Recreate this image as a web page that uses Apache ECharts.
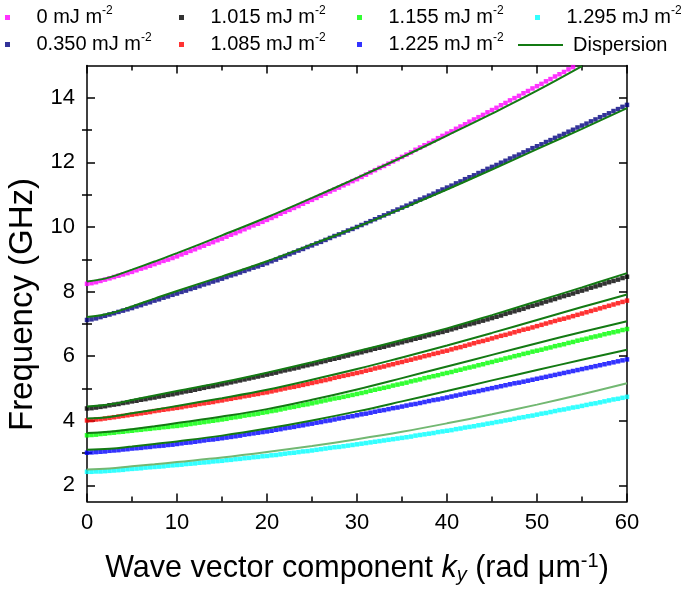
<!DOCTYPE html>
<html><head><meta charset="utf-8">
<script src="https://cdn.jsdelivr.net/npm/echarts@6/dist/echarts.min.js"></script>
<style>html,body{margin:0;padding:0;background:#fff}#c{width:681px;height:601px}</style>
</head><body><div id="c"></div>
<script>
// ---------- data ----------
const kMarkers = [0,0.5,1,1.5,2,2.5,3,3.5,4,4.5,5,5.5,6,6.5,7,7.5,8,8.5,9,9.5,10,10.5,11,11.5,12,12.5,13,13.5,14,14.5,15,15.5,16,16.5,17,17.5,18,18.5,19,19.5,20,20.5,21,21.5,22,22.5,23,23.5,24,24.5,25,25.5,26,26.5,27,27.5,28,28.5,29,29.5,30,30.5,31,31.5,32,32.5,33,33.5,34,34.5,35,35.5,36,36.5,37,37.5,38,38.5,39,39.5,40,40.5,41,41.5,42,42.5,43,43.5,44,44.5,45,45.5,46,46.5,47,47.5,48,48.5,49,49.5,50,50.5,51,51.5,52,52.5,53,53.5,54,54.5,55,55.5,56,56.5,57,57.5,58,58.5,59,59.5,60];

const seriesNames = ['0 mJ m-2','0.350 mJ m-2','1.015 mJ m-2','1.085 mJ m-2','1.155 mJ m-2','1.225 mJ m-2','1.295 mJ m-2'];
const dispersionName = 'Dispersion';

const f_0 = [8.24,8.26,8.29,8.33,8.37,8.41,8.45,8.49,8.53,8.57,
8.61,8.66,8.71,8.75,8.80,8.85,8.90,8.95,8.99,9.04,
9.09,9.15,9.20,9.26,9.31,9.37,9.42,9.48,9.53,9.59,
9.64,9.70,9.76,9.81,9.87,9.93,9.99,10.05,10.10,10.16,
10.22,10.28,10.34,10.41,10.47,10.53,10.59,10.65,10.72,10.78,
10.84,10.90,10.97,11.03,11.10,11.16,11.22,11.29,11.35,11.42,
11.48,11.55,11.62,11.69,11.76,11.83,11.89,11.96,12.03,12.10,
12.17,12.24,12.31,12.39,12.46,12.53,12.60,12.67,12.75,12.82,
12.89,12.96,13.04,13.11,13.18,13.26,13.33,13.40,13.47,13.55,
13.62,13.69,13.77,13.84,13.92,13.99,14.06,14.14,14.21,14.29,
14.36,14.43,14.51,14.58,14.66,14.73,14.80,14.88,14.95];

const f_0350 = [7.12,7.14,7.17,7.21,7.25,7.29,7.33,7.37,7.41,7.45,
7.49,7.54,7.58,7.63,7.67,7.72,7.76,7.81,7.85,7.90,
7.94,7.99,8.03,8.08,8.12,8.17,8.22,8.26,8.31,8.35,
8.40,8.45,8.50,8.54,8.59,8.64,8.69,8.74,8.78,8.83,
8.88,8.94,8.99,9.05,9.10,9.16,9.21,9.27,9.32,9.38,
9.43,9.49,9.54,9.60,9.66,9.72,9.77,9.83,9.89,9.94,
10.00,10.06,10.12,10.18,10.24,10.30,10.36,10.42,10.48,10.54,
10.60,10.66,10.72,10.79,10.85,10.91,10.97,11.03,11.10,11.16,
11.22,11.28,11.35,11.41,11.48,11.54,11.60,11.67,11.73,11.80,
11.86,11.92,11.99,12.05,12.12,12.18,12.24,12.31,12.37,12.44,
12.50,12.56,12.63,12.69,12.76,12.82,12.88,12.95,13.01,13.08,
13.14,13.20,13.27,13.33,13.40,13.46,13.52,13.59,13.65,13.72,
13.78];

const f_1015 = [4.38,4.39,4.41,4.43,4.45,4.48,4.50,4.52,4.55,4.57,
4.60,4.62,4.65,4.67,4.70,4.72,4.75,4.77,4.80,4.82,
4.85,4.88,4.91,4.93,4.96,4.99,5.02,5.05,5.07,5.10,
5.13,5.16,5.19,5.22,5.25,5.28,5.31,5.34,5.37,5.40,
5.43,5.46,5.49,5.53,5.56,5.59,5.62,5.65,5.69,5.72,
5.75,5.78,5.82,5.85,5.89,5.92,5.95,5.99,6.02,6.06,
6.09,6.12,6.16,6.19,6.23,6.26,6.29,6.33,6.36,6.40,
6.43,6.47,6.50,6.54,6.57,6.61,6.65,6.68,6.72,6.75,
6.79,6.83,6.87,6.91,6.95,6.99,7.02,7.06,7.10,7.14,
7.18,7.22,7.26,7.31,7.35,7.39,7.43,7.47,7.52,7.56,
7.60,7.64,7.69,7.73,7.77,7.82,7.86,7.90,7.94,7.99,
8.03,8.07,8.12,8.16,8.20,8.25,8.29,8.33,8.37,8.42,
8.46];

const f_1085 = [4.01,4.02,4.04,4.05,4.07,4.09,4.11,4.13,4.15,4.17,
4.19,4.21,4.23,4.25,4.27,4.30,4.32,4.34,4.36,4.38,
4.40,4.42,4.45,4.47,4.49,4.52,4.54,4.56,4.58,4.61,
4.63,4.66,4.68,4.71,4.73,4.76,4.78,4.81,4.83,4.86,
4.88,4.91,4.94,4.97,5.00,5.03,5.05,5.08,5.11,5.14,
5.17,5.20,5.23,5.26,5.29,5.33,5.36,5.39,5.42,5.45,
5.48,5.51,5.55,5.58,5.62,5.65,5.68,5.72,5.75,5.79,
5.82,5.86,5.89,5.93,5.96,6.00,6.03,6.07,6.10,6.14,
6.17,6.21,6.25,6.28,6.32,6.36,6.40,6.44,6.47,6.51,
6.55,6.59,6.63,6.66,6.70,6.74,6.78,6.82,6.85,6.89,
6.93,6.97,7.01,7.05,7.09,7.13,7.16,7.20,7.24,7.28,
7.32,7.36,7.40,7.44,7.48,7.52,7.56,7.60,7.64,7.68,
7.72];

const f_1155 = [3.55,3.56,3.57,3.59,3.60,3.62,3.63,3.65,3.66,3.68,
3.69,3.71,3.72,3.74,3.75,3.77,3.78,3.80,3.81,3.83,
3.84,3.86,3.88,3.90,3.92,3.94,3.96,3.98,4.00,4.02,
4.04,4.06,4.09,4.11,4.13,4.16,4.18,4.20,4.22,4.25,
4.27,4.30,4.32,4.35,4.38,4.41,4.43,4.46,4.49,4.51,
4.54,4.57,4.60,4.63,4.66,4.69,4.71,4.74,4.77,4.80,
4.83,4.86,4.89,4.93,4.96,4.99,5.02,5.05,5.09,5.12,
5.15,5.18,5.22,5.25,5.28,5.32,5.35,5.38,5.41,5.45,
5.48,5.51,5.55,5.58,5.62,5.65,5.68,5.72,5.75,5.79,
5.82,5.86,5.89,5.93,5.96,6.00,6.03,6.07,6.10,6.14,
6.17,6.20,6.24,6.27,6.31,6.34,6.37,6.41,6.44,6.48,
6.51,6.54,6.58,6.61,6.64,6.68,6.71,6.74,6.77,6.81,
6.84];

const f_1225 = [3.01,3.02,3.03,3.04,3.05,3.07,3.08,3.09,3.11,3.12,
3.14,3.15,3.16,3.18,3.19,3.21,3.22,3.23,3.25,3.26,
3.28,3.30,3.32,3.33,3.35,3.37,3.39,3.41,3.42,3.44,
3.46,3.48,3.50,3.52,3.54,3.57,3.59,3.61,3.63,3.65,
3.67,3.69,3.72,3.74,3.77,3.79,3.81,3.84,3.86,3.89,
3.91,3.94,3.96,3.99,4.01,4.04,4.07,4.09,4.12,4.14,
4.17,4.20,4.22,4.25,4.28,4.31,4.33,4.36,4.39,4.41,
4.44,4.47,4.50,4.52,4.55,4.58,4.61,4.64,4.66,4.69,
4.72,4.75,4.78,4.81,4.84,4.87,4.89,4.92,4.95,4.98,
5.01,5.04,5.07,5.10,5.13,5.16,5.18,5.21,5.24,5.27,
5.30,5.33,5.36,5.39,5.42,5.45,5.48,5.51,5.54,5.57,
5.60,5.63,5.66,5.69,5.72,5.75,5.78,5.81,5.84,5.87,
5.90];

const f_1295 = [2.42,2.42,2.43,2.43,2.44,2.45,2.46,2.47,2.48,2.50,
2.51,2.52,2.53,2.55,2.56,2.57,2.58,2.59,2.61,2.62,
2.63,2.64,2.66,2.67,2.68,2.70,2.71,2.72,2.74,2.75,
2.76,2.78,2.79,2.81,2.82,2.84,2.85,2.87,2.88,2.90,
2.91,2.93,2.94,2.96,2.98,3.00,3.01,3.03,3.05,3.06,
3.08,3.10,3.12,3.14,3.16,3.18,3.19,3.21,3.23,3.25,
3.27,3.29,3.31,3.33,3.35,3.37,3.39,3.41,3.43,3.45,
3.47,3.49,3.51,3.54,3.56,3.58,3.60,3.62,3.65,3.67,
3.69,3.71,3.74,3.76,3.79,3.81,3.83,3.86,3.88,3.91,
3.93,3.96,3.98,4.01,4.03,4.06,4.09,4.11,4.14,4.16,
4.19,4.22,4.24,4.27,4.30,4.33,4.35,4.38,4.41,4.43,
4.46,4.49,4.52,4.54,4.57,4.60,4.63,4.66,4.68,4.71,
4.74];

// dispersion curves (sampled)
const kLine = [0,2.5,5,7.5,10,15,20,25,30,35,40,45,50,55,60];
const disp_0    = [8.31,8.44,8.68,8.93,9.19,9.74,10.30,10.90,11.52,12.16,12.83,13.51,14.22,14.98];
const disp_0350 = [7.21,7.32,7.54,7.78,8.02,8.47,8.94,9.46,10.00,10.57,11.16,11.78,12.41,13.04,13.68];
const disp_1015 = [4.44,4.50,4.64,4.78,4.92,5.19,5.49,5.81,6.15,6.50,6.86,7.27,7.70,8.13,8.57];
const disp_1085 = [4.07,4.12,4.23,4.34,4.46,4.70,4.96,5.27,5.60,5.96,6.33,6.72,7.12,7.52,7.91];
const disp_1155 = [3.62,3.66,3.74,3.83,3.93,4.13,4.36,4.65,4.97,5.32,5.68,6.04,6.40,6.75,7.08];
const disp_1225 = [3.10,3.13,3.20,3.28,3.36,3.54,3.76,4.01,4.29,4.60,4.92,5.25,5.57,5.89,6.20];
const disp_1295 = [2.49,2.52,2.59,2.65,2.72,2.86,3.03,3.22,3.43,3.66,3.92,4.20,4.50,4.82,5.16];

const yMajorTicks = [2,4,6,8,10,12,14];
const yMinorTicks = [3,5,7,9,11,13];

// ---------- chart ----------
const FONT = '"Liberation Sans", Arial, sans-serif';
const markerValues = [f_0, f_0350, f_1015, f_1085, f_1155, f_1225, f_1295];
const dispValues = [disp_0, disp_0350, disp_1015, disp_1085, disp_1155, disp_1225, disp_1295];
const markerColors = ['#ff00ff','#000080','#000000','#ff0000','#00ff00','#0000ff','#00ffff'];
const lineColors = ['#137a13','#137a13','#137a13','#137a13','#137a13','#137a13','#72b872'];

const markerSeries = markerValues.map((vals, i) => ({
  type: 'scatter', name: seriesNames[i],
  data: vals.map((v, j) => [kMarkers[j], v]),
  symbol: 'rect', symbolSize: 4.5,
  itemStyle: { color: markerColors[i] },
  clip: true, z: 2, silent: true
}));
const lineSeries = dispValues.map((vals, i) => ({
  type: 'line', name: dispersionName,
  data: vals.map((v, j) => [kLine[j], v]),
  symbol: 'none', showSymbol: false, smooth: 0.4,
  lineStyle: { color: lineColors[i], width: 2 },
  itemStyle: { color: lineColors[0] },
  clip: true, z: 3, silent: true
}));

const axisLineStyle = { color: '#000', width: 1.5 };
const tickStyle = { color: '#000', width: 1.5 };

const legendText = {
  fontFamily: FONT, fontSize: 20, color: '#000', lineHeight: 22,
  padding: [0, 0, 0, 14],
  rich: { sup: { fontFamily: FONT, fontSize: 12, color: '#000', lineHeight: 12, padding: [0, 0, 13, 0] } }
};
const squareIcon = 'path://M0,0L10,0L10,10L0,10Z';
function colLegend(left, names) {
  return {
    orient: 'vertical', left: left, top: 0, itemWidth: 20, itemHeight: 5, itemGap: 2,
    icon: squareIcon, selectedMode: false, data: names,
    formatter: n => n.replace('m-2', 'm{sup|-2}'),
    textStyle: legendText
  };
}

const option = {
  animation: false,
  backgroundColor: '#fff',
  grid: { left: 87, right: 54, top: 65.5, bottom: 99.5, containLabel: false, outerBoundsMode: 'none' },
  legend: [
    colLegend(0, [seriesNames[0], seriesNames[1]]),
    colLegend(174, [seriesNames[2], seriesNames[3]]),
    colLegend(352, [seriesNames[4], seriesNames[5]]),
    colLegend(530, [seriesNames[6]]),
    {
      orient: 'vertical', left: 513, top: 29, itemWidth: 45, itemHeight: 14,
      selectedMode: false,
      data: [{ name: dispersionName, icon: 'path://M0,0L45,0L45,2.2L0,2.2Z' }],
      itemStyle: { color: lineColors[0] },
      textStyle: { fontFamily: FONT, fontSize: 20, color: '#000', lineHeight: 22, padding: [0, 0, 0, 5] }
    }
  ],
  xAxis: [
    {
      type: 'value', min: 0, max: 60, interval: 10, position: 'bottom',
      axisLine: { show: true, onZero: false, lineStyle: axisLineStyle },
      axisTick: { show: true, inside: true, length: 8, lineStyle: tickStyle },
      minorTick: { show: true, splitNumber: 2, length: 5, lineStyle: tickStyle },
      splitLine: { show: false },
      axisLabel: { fontFamily: FONT, fontSize: 22, color: '#000', margin: 10 },
      name: 'Wave vector component {it|k}{sub|y} (rad μm{sup|-1})',
      nameLocation: 'middle', nameGap: 50,
      nameTextStyle: {
        fontFamily: FONT, fontSize: 30.5, color: '#000', lineHeight: 34,
        rich: {
          it: { fontFamily: FONT, fontSize: 30.5, fontStyle: 'italic', color: '#000', lineHeight: 34 },
          sub: { fontFamily: FONT, fontSize: 20, fontStyle: 'italic', color: '#000', lineHeight: 20, padding: [14, 0, 0, 0] },
          sup: { fontFamily: FONT, fontSize: 20, color: '#000', lineHeight: 20, padding: [0, 0, 14, 0] }
        }
      }
    },
    {
      type: 'value', min: 0, max: 60, interval: 10, position: 'top',
      axisLine: { show: true, onZero: false, lineStyle: axisLineStyle },
      axisTick: { show: true, inside: true, length: 8, lineStyle: tickStyle },
      minorTick: { show: true, splitNumber: 2, length: 5, lineStyle: tickStyle },
      splitLine: { show: false }, axisLabel: { show: false }
    }
  ],
  yAxis: [
    {
      type: 'value', min: 1.5, max: 15, position: 'left',
      axisLine: { show: true, onZero: false, lineStyle: axisLineStyle },
      axisTick: { show: true, inside: true, length: 8, lineStyle: tickStyle, customValues: yMajorTicks },
      axisLabel: { fontFamily: FONT, fontSize: 22, color: '#000', margin: 12, customValues: yMajorTicks },
      splitLine: { show: false },
      name: 'Frequency (GHz)', nameLocation: 'middle', nameGap: 43,
      nameTextStyle: { fontFamily: FONT, fontSize: 33, color: '#000', padding: [0, 42, 0, 0] }
    },
    {
      type: 'value', min: 1.5, max: 15, position: 'left',
      axisLine: { show: false },
      axisTick: { show: true, inside: true, length: 5, lineStyle: tickStyle, customValues: yMinorTicks },
      axisLabel: { show: false }, splitLine: { show: false }
    },
    {
      type: 'value', min: 1.5, max: 15, position: 'right',
      axisLine: { show: true, onZero: false, lineStyle: axisLineStyle },
      axisTick: { show: true, inside: true, length: 8, lineStyle: tickStyle, customValues: yMajorTicks },
      axisLabel: { show: false }, splitLine: { show: false }
    },
    {
      type: 'value', min: 1.5, max: 15, position: 'right',
      axisLine: { show: false },
      axisTick: { show: true, inside: true, length: 5, lineStyle: tickStyle, customValues: yMinorTicks },
      axisLabel: { show: false }, splitLine: { show: false }
    }
  ],
  series: markerSeries.concat(lineSeries)
};

const chart = echarts.init(document.getElementById('c'), null, { renderer: 'canvas' });
chart.setOption(option);
</script>
</body></html>
